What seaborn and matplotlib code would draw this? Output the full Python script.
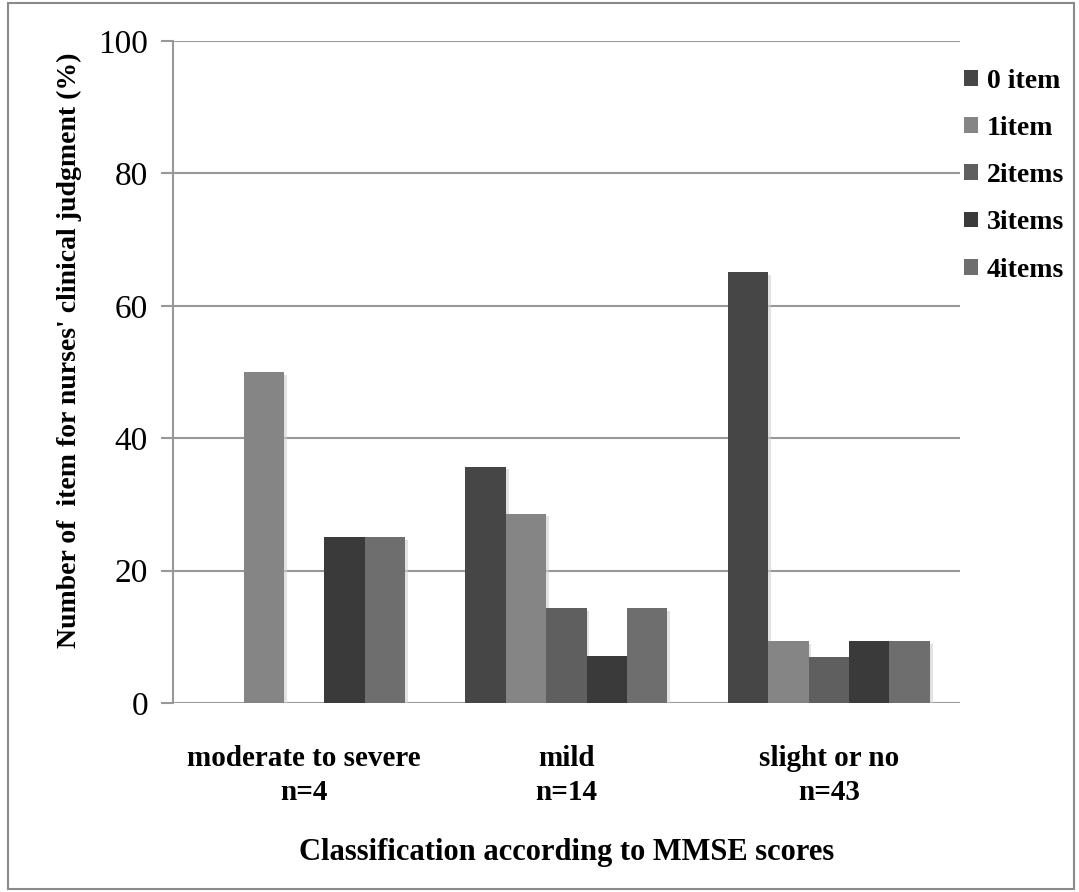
import matplotlib
matplotlib.use("Agg")
import matplotlib.pyplot as plt
import matplotlib.patheffects as pe
import seaborn as sns
import pandas as pd
from matplotlib.patches import Rectangle

categories = ["moderate to severe\nn=4", "mild\nn=14", "slight or no\nn=43"]
series = ["0 item", "1item", "2items", "3items", "4items"]
item0 = [0.0, 35.7, 65.1]
item1 = [50.0, 28.6, 9.3]
item2 = [0.0, 14.3, 7.0]
item3 = [25.0, 7.1, 9.3]
item4 = [25.0, 14.3, 9.3]
colors = ["#464646", "#858585", "#5f5f5f", "#3a3a3a", "#6e6e6e"]

rows = []
for s, vals in zip(series, [item0, item1, item2, item3, item4]):
    for c, v in zip(categories, vals):
        rows.append({"cat": c, "series": s, "value": v})
df = pd.DataFrame(rows)

sns.set_theme(style="white")
plt.rcParams["font.family"] = ["Liberation Serif", "DejaVu Serif"]
plt.rcParams["text.color"] = "black"
plt.rcParams["axes.labelcolor"] = "black"
plt.rcParams["xtick.color"] = "black"
plt.rcParams["ytick.color"] = "black"

fig = plt.figure(figsize=(10.79, 8.92), dpi=100)
ax = fig.add_axes([0.1603, 0.2119, 0.7294, 0.7421])

sns.barplot(data=df, x="cat", y="value", hue="series", order=categories,
            hue_order=series, palette=colors, width=0.77, saturation=1,
            ax=ax, legend=False, linewidth=0)

for p in ax.patches:
    p.set_path_effects([pe.SimplePatchShadow(offset=(2, -2), shadow_rgbFace="#d0d0d0", alpha=0.6),
                        pe.Normal()])

ax.set_ylim(0, 100)
ax.set_xlim(-0.5, 2.5)
ax.set_yticks([0, 20, 40, 60, 80, 100])
ax.yaxis.grid(True, color="#989898", linewidth=1.5)
ax.set_axisbelow(True)
for side in ["top", "right", "bottom"]:
    ax.spines[side].set_visible(False)
ax.spines["left"].set_color("#989898")
ax.spines["left"].set_linewidth(1.5)
ax.tick_params(axis="y", direction="out", length=9, width=1.5, color="#989898",
               labelcolor="black", labelsize=24, pad=9, left=True)
ax.tick_params(axis="x", length=0, labelsize=21, pad=30, labelcolor="black")
for lab in ax.get_xticklabels():
    lab.set_fontweight("bold")
    lab.set_multialignment("center")
    lab.set_linespacing(1.35)
ax.set_xlabel("Classification according to MMSE scores", fontsize=22,
              fontweight="bold", labelpad=23)
ax.set_ylabel("Number of  item for nurses' clinical judgment (%)", fontsize=20,
              fontweight="bold")
ax.yaxis.set_label_coords(-0.116, 0.533)

handles = [Rectangle((0, 0), 1, 1, facecolor=c, edgecolor="none") for c in colors]
leg = ax.legend(handles, series, loc="upper left", bbox_to_anchor=(0.991, 0.975),
                frameon=False, prop={"size": 20, "weight": "bold"},
                handlelength=0.5, handleheight=0.5, handletextpad=0.32,
                labelspacing=0.8, borderaxespad=0)

fig.patches.append(Rectangle((0.007, 0.003), 0.988, 0.994, transform=fig.transFigure,
                             fill=False, edgecolor="#8a8a8a", linewidth=1.5))

fig.savefig("out.png", dpi=100, facecolor="white")
